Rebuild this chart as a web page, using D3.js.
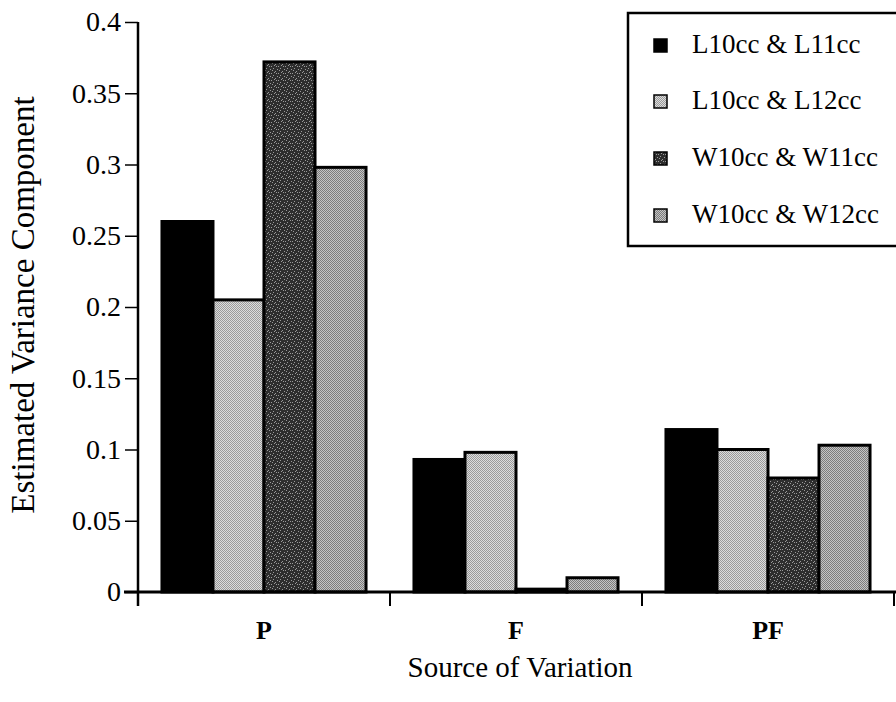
<!DOCTYPE html>
<html>
<head>
<meta charset="utf-8">
<script src="https://cdn.jsdelivr.net/npm/d3@7"></script>
<style>
  html, body { margin: 0; padding: 0; background: #fff; }
  svg { display: block; }
  text { font-family: "Liberation Serif", "Times New Roman", serif; fill: #000; }
</style>
</head>
<body>
<div id="chart"></div>
<script>
// ---- data ----
const categories = ["P", "F", "PF"];
const seriesNames = ["L10cc & L11cc", "L10cc & L12cc", "W10cc & W11cc", "W10cc & W12cc"];
const valsL10L11 = [0.260, 0.093, 0.114];
const valsL10L12 = [0.205, 0.098, 0.100];
const valsW10W11 = [0.372, 0.002, 0.080];
const valsW10W12 = [0.298, 0.010, 0.103];
const yTickValues = [0, 0.05, 0.1, 0.15, 0.2, 0.25, 0.3, 0.35, 0.4];
const yTickLabels = ["0", "0.05", "0.1", "0.15", "0.2", "0.25", "0.3", "0.35", "0.4"];
const xTitle = "Source of Variation";
const yTitle = "Estimated Variance Component";

const seriesValues = [valsL10L11, valsL10L12, valsW10W11, valsW10W12];
const table = categories.map((c, i) => ({
  cat: c,
  vals: seriesNames.map((s, j) => ({ series: s, idx: j, value: seriesValues[j][i] }))
}));

// ---- layout ----
const W = 896, H = 702;
const svg = d3.select("#chart").append("svg").attr("width", W).attr("height", H);

const defs = svg.append("defs");
function pattern(id, size, bg, dots, dotColor) {
  const p = defs.append("pattern").attr("id", id).attr("patternUnits", "userSpaceOnUse")
    .attr("width", size).attr("height", size);
  p.append("rect").attr("width", size).attr("height", size).attr("fill", bg);
  dots.forEach(d => p.append("rect").attr("x", d[0]).attr("y", d[1]).attr("width", 1).attr("height", 1).attr("fill", dotColor));
}
pattern("patLight", 2, "#dcdcdc", [[0, 0], [1, 1]], "#9a9a9a");
pattern("patDark", 7, "#2e2e2e", [[1, 0], [4, 1], [0, 3], [5, 3], [2, 5], [6, 6], [3, 2]], "#9a9a9a");
pattern("patMed", 2, "#c4c4c4", [[0, 0], [1, 1]], "#7c7c7c");
const fills = ["#000", "url(#patLight)", "url(#patDark)", "url(#patMed)"];

const x0Left = 138, x0Right = 894, yTop = 22, yBottom = 592;

const x0 = d3.scaleBand().domain(categories).range([x0Left, x0Right]).padding(0);
const x1 = d3.scaleBand().domain(d3.range(seriesNames.length)).range([0, x0.bandwidth()])
  .paddingInner(0).paddingOuter(0.47);
const y = d3.scaleLinear().domain([0, 0.4]).range([yBottom, yTop]);

// bars
const groups = svg.append("g").selectAll("g").data(table).join("g")
  .attr("transform", d => `translate(${x0(d.cat)},0)`);
groups.selectAll("rect").data(d => d.vals).join("rect")
  .attr("x", d => x1(d.idx))
  .attr("y", d => y(d.value))
  .attr("width", x1.bandwidth())
  .attr("height", d => y(0) - y(d.value))
  .attr("fill", d => fills[d.idx])
  .attr("stroke", "#000")
  .attr("stroke-width", 3);

// y axis
const yAxis = svg.append("g").attr("transform", `translate(${x0Left},0)`)
  .call(d3.axisLeft(y).tickValues(yTickValues).tickFormat((d, i) => yTickLabels[i]).tickSize(13).tickSizeOuter(0).tickPadding(4));
yAxis.select(".domain").attr("stroke", "#000").attr("stroke-width", 2.5);
yAxis.selectAll(".tick line").attr("stroke", "#000").attr("stroke-width", 1.5);
yAxis.selectAll("text").style("font-family", '"Liberation Serif", serif').style("font-size", "28px").attr("fill", "#000");
yAxis.select(".domain").attr("d", `M0,${yTop}V${yBottom + 14}`);

// x axis
const xAxis = svg.append("g").attr("transform", `translate(0,${yBottom})`)
  .call(d3.axisBottom(x0).tickSize(0).tickPadding(29).tickSizeOuter(0));
xAxis.select(".domain").attr("d", `M${x0Left - 14},0H${W}`).attr("stroke", "#000").attr("stroke-width", 3);
xAxis.selectAll("text").style("font-family", '"Liberation Serif", serif').style("font-size", "26px").style("font-weight", "bold").attr("fill", "#000");
const boundaries = categories.slice(1).map(c => x0(c)).concat([x0Right]);
xAxis.selectAll("line.bnd").data(boundaries).join("line").attr("class", "bnd")
  .attr("x1", d => d).attr("x2", d => d).attr("y1", 0).attr("y2", 14)
  .attr("stroke", "#000").attr("stroke-width", 2);

// titles
svg.append("text").attr("x", 520).attr("y", 677).attr("text-anchor", "middle")
  .style("font-size", "29px").text(xTitle);
svg.append("text").attr("transform", `translate(34,305) rotate(-90)`).attr("text-anchor", "middle")
  .style("font-size", "33px").text(yTitle);

// legend
const lg = svg.append("g");
lg.append("rect").attr("x", 628).attr("y", 13).attr("width", 280).attr("height", 233)
  .attr("fill", "#fff").attr("stroke", "#000").attr("stroke-width", 2.5);
const rowY = [45, 101, 158, 215];
const items = lg.selectAll("g.item").data(seriesNames).join("g").attr("class", "item")
  .attr("transform", (d, i) => `translate(0,${rowY[i]})`);
items.append("rect").attr("x", 654).attr("y", -6).attr("width", 13).attr("height", 13)
  .attr("fill", (d, i) => fills[i]).attr("stroke", "#000").attr("stroke-width", 1.5);
items.append("text").attr("x", 692).attr("y", 8).style("font-size", "27px").text(d => d);
</script>
</body>
</html>
